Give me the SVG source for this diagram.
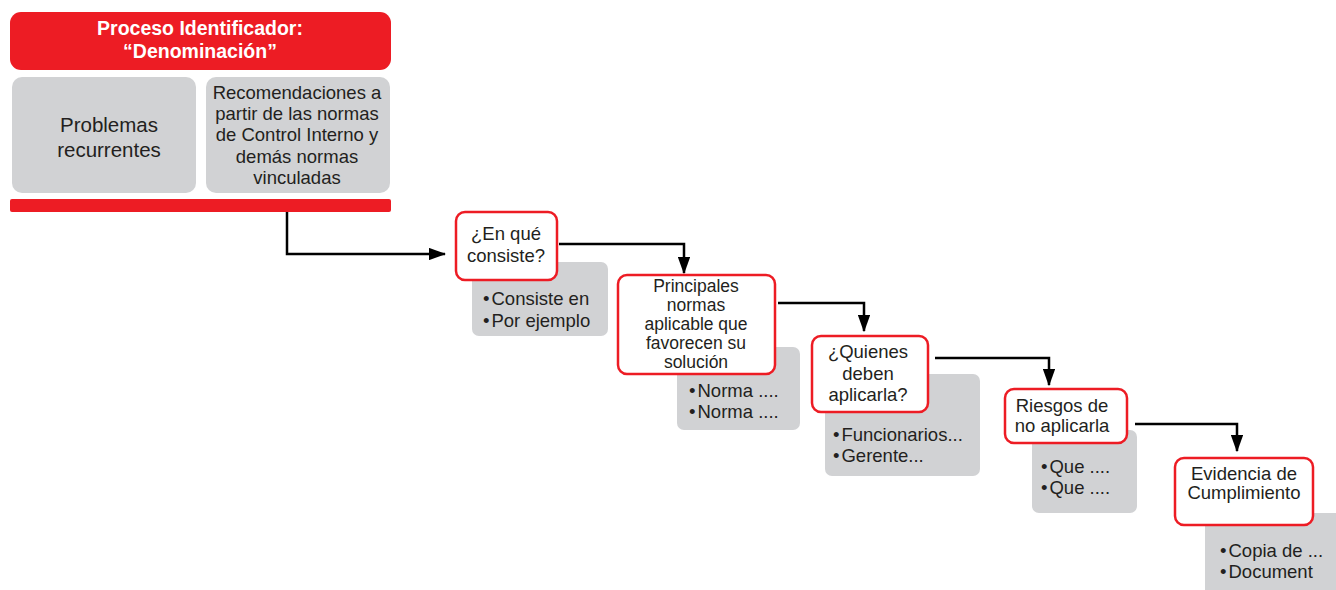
<svg xmlns="http://www.w3.org/2000/svg" width="1336" height="590" viewBox="0 0 1336 590">
<style>
text{font-family:"Liberation Sans",Arial,sans-serif;fill:#231f20}
.h{fill:#fff;font-weight:bold;font-size:19.5px;text-anchor:middle}
.g{fill:#d1d2d4}
.w{fill:#fff;stroke:#ed1c24;stroke-width:2.5}
.t{font-size:18.5px;text-anchor:middle}
.n{font-size:17.5px;text-anchor:middle}
.b{font-size:18.5px}
.c{fill:none;stroke:#000;stroke-width:2.5}
</style>
<defs>
<marker id="ar" viewBox="0 0 14 10" refX="13" refY="5" markerWidth="7" markerHeight="5" orient="auto" markerUnits="strokeWidth">
<path d="M0,0 L14,5 L0,10 Z" fill="#000"/>
</marker>
</defs>
<g id="header">
<rect x="10" y="12" width="381" height="58" rx="11" fill="#ed1c24"/>
<text class="h" x="200" y="35">Proceso Identificador:</text>
<text class="h" x="200" y="58">“Denominación”</text>
</g>
<g id="problemas">
<rect class="g" x="12" y="77" width="184" height="116" rx="10"/>
<text class="t" x="109" y="132" style="font-size:20.5px">Problemas</text>
<text class="t" x="109" y="157" style="font-size:20.5px">recurrentes</text>
</g>
<g id="recomendaciones">
<rect class="g" x="206" y="77" width="184" height="116" rx="10"/>
<text class="t" x="297" y="99">Recomendaciones a</text>
<text class="t" x="297" y="120">partir de las normas</text>
<text class="t" x="297" y="141">de Control Interno y</text>
<text class="t" x="297" y="163">demás normas</text>
<text class="t" x="297" y="184">vinculadas</text>
</g>
<g id="bar">
<rect x="10" y="199" width="381" height="13" rx="2" fill="#ed1c24"/>
</g>
<g id="connectors">
<path class="c" d="M287,212 V254 H445" marker-end="url(#ar)"/>
<path class="c" d="M559,244 H684 V273" marker-end="url(#ar)"/>
<path class="c" d="M778,303 H864 V331" marker-end="url(#ar)"/>
<path class="c" d="M935,358 H1049 V385" marker-end="url(#ar)"/>
<path class="c" d="M1135,424 H1237 V451" marker-end="url(#ar)"/>
</g>
<g id="detalle1">
<rect class="g" x="472" y="262" width="136" height="74" rx="7"/>
<text class="b" x="483" y="305">•<tspan dx="2">Consiste en</tspan></text>
<text class="b" x="483" y="327">•<tspan dx="2">Por ejemplo</tspan></text>
</g>
<g id="consiste">
<rect class="w" x="456" y="212" width="101" height="68" rx="9"/>
<text class="t" x="506" y="240">¿En qué</text>
<text class="t" x="506" y="262">consiste?</text>
</g>
<g id="detalle2">
<rect class="g" x="677" y="347" width="123" height="83" rx="7"/>
<text class="b" x="689" y="397">•<tspan dx="2">Norma ....</tspan></text>
<text class="b" x="689" y="418">•<tspan dx="2">Norma ....</tspan></text>
</g>
<g id="normas">
<rect class="w" x="618" y="275" width="157" height="99" rx="9"/>
<text class="n" x="696" y="292">Principales</text>
<text class="n" x="696" y="311">normas</text>
<text class="n" x="696" y="330">aplicable que</text>
<text class="n" x="696" y="349">favorecen su</text>
<text class="n" x="696" y="368">solución</text>
</g>
<g id="detalle3">
<rect class="g" x="825" y="374" width="155" height="102" rx="7"/>
<text class="b" x="833" y="441">•<tspan dx="2">Funcionarios...</tspan></text>
<text class="b" x="833" y="462">•<tspan dx="2">Gerente...</tspan></text>
</g>
<g id="quienes">
<rect class="w" x="812" y="336" width="116" height="76" rx="9"/>
<text class="t" x="868" y="358">¿Quienes</text>
<text class="t" x="868" y="380">deben</text>
<text class="t" x="868" y="401">aplicarla?</text>
</g>
<g id="detalle4">
<rect class="g" x="1032" y="430" width="105" height="83" rx="7"/>
<text class="b" x="1041" y="473">•<tspan dx="2">Que ....</tspan></text>
<text class="b" x="1041" y="494">•<tspan dx="2">Que ....</tspan></text>
</g>
<g id="riesgos">
<rect class="w" x="1005" y="389" width="122" height="54" rx="9"/>
<text class="t" x="1062" y="412">Riesgos de</text>
<text class="t" x="1062" y="432">no aplicarla</text>
</g>
<g id="detalle5">
<rect class="g" x="1205" y="513" width="140" height="90" rx="7"/>
<text class="b" x="1220" y="557">•<tspan dx="2">Copia de ...</tspan></text>
<text class="b" x="1220" y="578">•<tspan dx="2">Document</tspan></text>
</g>
<g id="evidencia">
<rect class="w" x="1175" y="458" width="138" height="67" rx="9"/>
<text class="t" x="1244" y="480">Evidencia de</text>
<text class="t" x="1244" y="499">Cumplimiento</text>
</g>
</svg>
